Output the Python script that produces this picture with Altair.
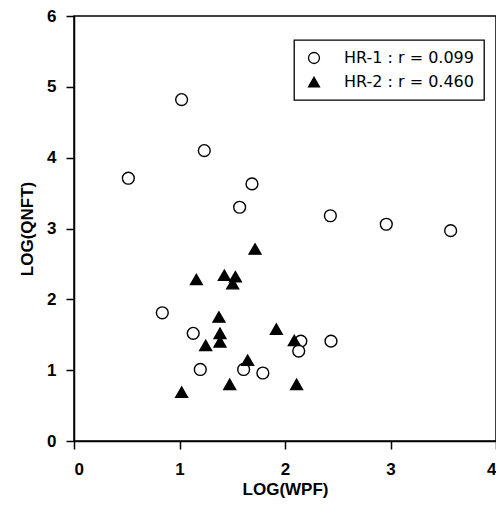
import altair as alt
import pandas as pd

hr1_x = [0.515, 1.02, 1.235, 1.687, 1.57, 2.43, 2.96, 3.57, 0.837, 1.13, 1.197, 1.608, 1.79, 2.15, 2.13, 2.436]
hr1_y = [3.71, 4.82, 4.10, 3.63, 3.30, 3.18, 3.06, 2.97, 1.81, 1.52, 1.01, 1.01, 0.96, 1.41, 1.27, 1.41]
hr2_x = [1.716, 1.16, 1.425, 1.53, 1.504, 1.374, 1.384, 1.384, 1.248, 1.918, 2.088, 1.646, 1.02, 1.476, 2.11]
hr2_y = [2.71, 2.28, 2.34, 2.32, 2.22, 1.75, 1.52, 1.40, 1.35, 1.58, 1.42, 1.14, 0.69, 0.80, 0.80]
series = ["HR-1 : r = 0.099", "HR-2 : r = 0.460"]

df = pd.DataFrame({
    "x": hr1_x + hr2_x,
    "y": hr1_y + hr2_y,
    "s": [series[0]] * len(hr1_x) + [series[1]] * len(hr2_x),
})

FONT = "Liberation Sans"

chart = alt.Chart(df).mark_point(
    filled=True, size=140, stroke="black", strokeWidth=1.4, opacity=1
).encode(
    x=alt.X("x:Q", scale=alt.Scale(domain=[0, 4], nice=False),
            axis=alt.Axis(title="LOG(WPF)", values=[0, 1, 2, 3, 4], format="d",
                          labelPadding=12, titlePadding=4)),
    y=alt.Y("y:Q", scale=alt.Scale(domain=[0, 6], nice=False),
            axis=alt.Axis(title="LOG(QNFT)", values=[0, 1, 2, 3, 4, 5, 6], format="d",
                          labelPadding=10, titlePadding=10)),
    shape=alt.Shape("s:N", scale=alt.Scale(domain=series, range=["circle", "triangle-up"]),
                    legend=alt.Legend(title=None)),
    fill=alt.Fill("s:N", scale=alt.Scale(domain=series, range=["white", "black"]),
                  legend=alt.Legend(title=None)),
).properties(
    width=422, height=425,
    padding={"left": 66, "top": 8, "right": 0, "bottom": 60},
    autosize=alt.AutoSizeParams(type="none"),
).configure_view(
    stroke="black", strokeWidth=1.5, fill="white"
).configure_axis(
    grid=False, domainColor="black", domainWidth=1.5, tickColor="black",
    tickSize=8, tickWidth=1.5, labelFont=FONT, labelFontSize=17, labelFontWeight="bold",
    labelColor="black", titleFont=FONT, titleFontSize=17, titleFontWeight="bold",
    titleColor="black",
).configure_legend(
    orient="none", legendX=220, legendY=24, strokeColor="black", strokeWidth=1.3,
    fillColor="white", padding=10, labelFont="DejaVu Sans", labelFontSize=16,
    labelColor="black",
    symbolSize=120, symbolStrokeWidth=1.3, labelOffset=22, rowPadding=7,
    symbolOffset=2,
)

chart.save("out.html", embed_options={"renderer": "svg", "actions": False})
